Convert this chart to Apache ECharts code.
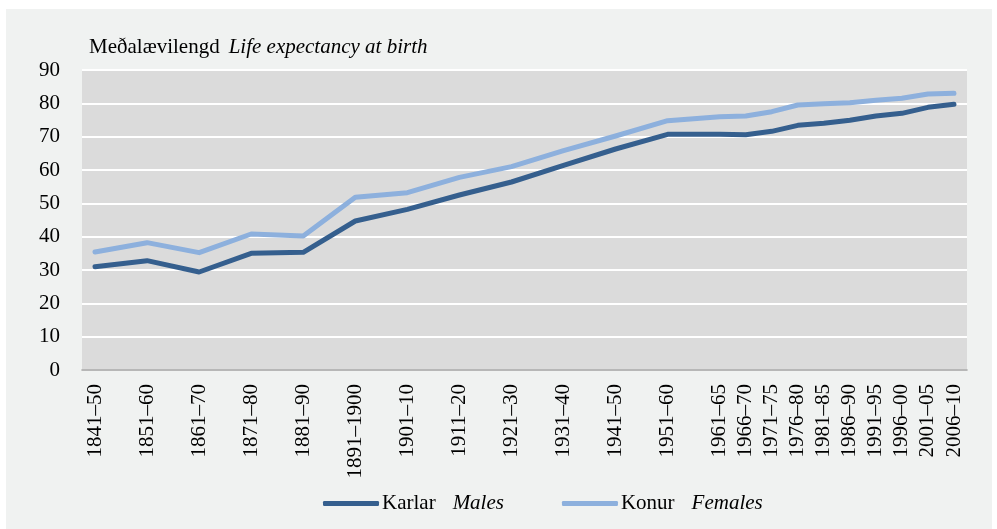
<!DOCTYPE html>
<html>
<head>
<meta charset="utf-8">
<script src="https://cdn.jsdelivr.net/npm/echarts@6/dist/echarts.min.js"></script>
<style>
  html, body { margin: 0; padding: 0; background: #ffffff; }
  #chart { width: 997px; height: 529px; }
</style>
</head>
<body>
<div id="chart"></div>
<script>
// each slot is five years; decades take two slots (the second one blank)
const periods = [
  '1841–50', '', '1851–60', '', '1861–70', '', '1871–80', '', '1881–90', '',
  '1891–1900', '', '1901–10', '', '1911–20', '', '1921–30', '', '1931–40', '',
  '1941–50', '', '1951–60', '',
  '1961–65', '1966–70', '1971–75', '1976–80', '1981–85', '1986–90',
  '1991–95', '1996–00', '2001–05', '2006–10'
];
// Karlar / Males
const males = [
  31.0, null, 32.8, null, 29.4, null, 35.0, null, 35.3, null,
  44.7, null, 48.2, null, 52.5, null, 56.4, null, 61.4, null,
  66.3, null, 70.7, null,
  70.7, 70.6, 71.6, 73.4, 74.0, 74.9, 76.2, 77.0, 78.8, 79.7
];
// Konur / Females
const females = [
  35.4, null, 38.2, null, 35.2, null, 40.8, null, 40.2, null,
  51.8, null, 53.2, null, 57.8, null, 61.0, null, 65.8, null,
  70.2, null, 74.8, null,
  76.0, 76.2, 77.5, 79.5, 79.9, 80.2, 80.9, 81.5, 82.8, 83.0
];

const font = 'Liberation Serif, Times New Roman, serif';
const darkBlue = '#355f8e';
const lightBlue = '#8db0dd';
const fs = 21;

const chart = echarts.init(document.getElementById('chart'));
chart.setOption({
  animation: false,
  textStyle: { fontFamily: font, color: '#000' },
  graphic: [
    {
      type: 'rect', z: -10, silent: true,
      shape: { x: 6, y: 9, width: 986, height: 520 },
      style: { fill: '#f0f2f1' }
    },
    {
      type: 'rect', z: -5, silent: true,
      shape: { x: 82, y: 70, width: 885, height: 300 },
      style: { fill: '#dbdbdb' }
    }
  ],
  title: {
    left: 84,
    top: 32,
    text: '{a|Meðalævilengd}{b|Life expectancy at birth}',
    textStyle: {
      fontWeight: 'normal',
      rich: {
        a: { fontFamily: font, fontSize: fs, fontWeight: 'normal', color: '#000' },
        b: { fontFamily: font, fontSize: fs, fontWeight: 'normal', fontStyle: 'italic', color: '#000', padding: [0, 0, 0, 9] }
      }
    }
  },
  legend: {
    bottom: 10,
    left: 318,
    itemWidth: 56,
    itemHeight: 5,
    itemGap: 58,
    icon: 'roundRect',
    data: [
      { name: 'Karlar', itemStyle: { color: darkBlue } },
      { name: 'Konur', itemStyle: { color: lightBlue } }
    ],
    formatter: function (name) {
      return name === 'Karlar' ? '{a|Karlar}{b|Males}' : '{a|Konur}{b|Females}';
    },
    textStyle: {
      padding: [0, 0, 0, -2],
      rich: {
        a: { fontFamily: font, fontSize: fs, color: '#000' },
        b: { fontFamily: font, fontSize: fs, fontStyle: 'italic', color: '#000', padding: [0, 0, 0, 17] }
      }
    }
  },
  grid: { left: 82, right: 30, top: 70, bottom: 159 },
  xAxis: {
    type: 'category',
    data: periods,
    boundaryGap: true,
    axisLine: { lineStyle: { color: '#a0a0a0', width: 1.5 } },
    axisTick: { show: false },
    axisLabel: {
      interval: 0,
      rotate: 90,
      margin: 14,
      fontFamily: font,
      fontSize: fs,
      color: '#000'
    }
  },
  yAxis: {
    type: 'value',
    min: 0,
    max: 90,
    interval: 10,
    axisLine: { show: false },
    axisTick: { show: false },
    axisLabel: { margin: 22, fontFamily: font, fontSize: fs, color: '#000' },
    splitLine: { lineStyle: { color: '#ffffff', width: 2 } }
  },
  series: [
    {
      name: 'Karlar',
      type: 'line',
      data: males,
      connectNulls: true,
      showSymbol: false,
      symbol: 'none',
      lineStyle: { color: darkBlue, width: 5, cap: 'round', join: 'round' },
      itemStyle: { color: darkBlue }
    },
    {
      name: 'Konur',
      type: 'line',
      data: females,
      connectNulls: true,
      showSymbol: false,
      symbol: 'none',
      lineStyle: { color: lightBlue, width: 5, cap: 'round', join: 'round' },
      itemStyle: { color: lightBlue }
    }
  ]
});
</script>
</body>
</html>
